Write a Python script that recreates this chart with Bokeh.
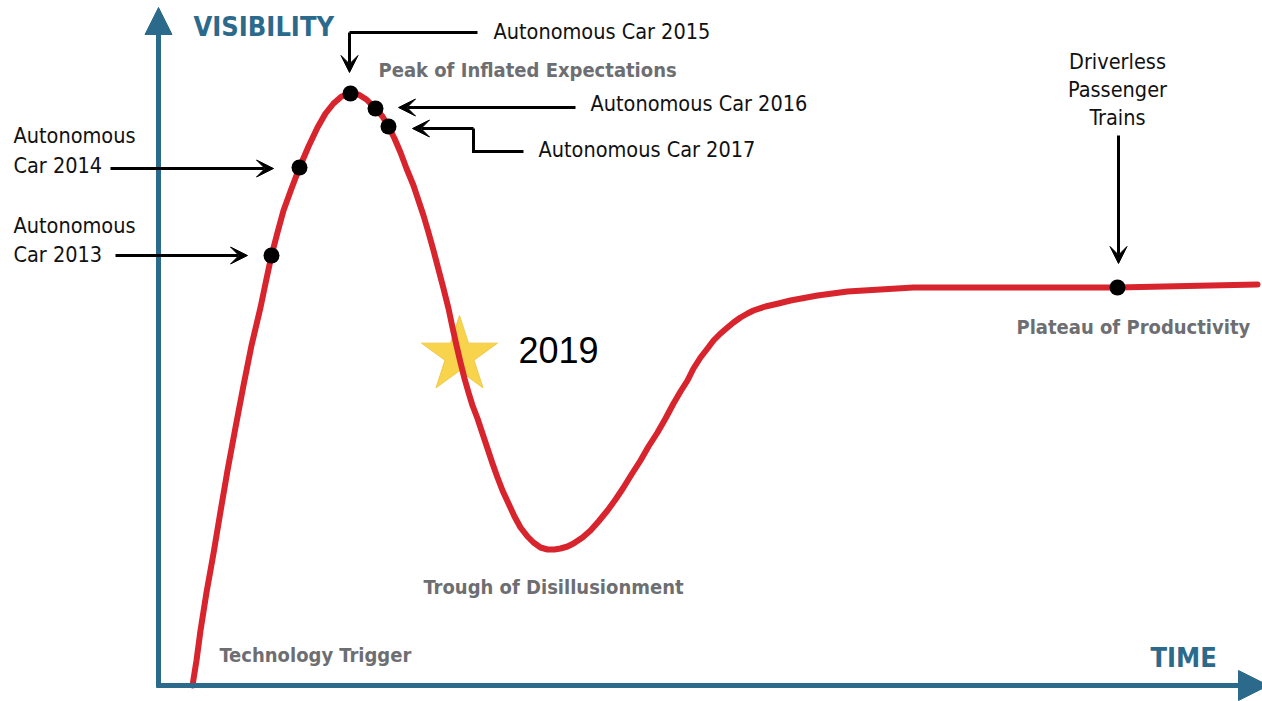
from bokeh.plotting import figure
from bokeh.models import Range1d, Arrow, VeeHead, NormalHead
from bokeh.core.properties import value
from bokeh.embed import file_html
from bokeh.resources import INLINE

# Coordinate system: time t (right) and visibility v (up), origin at the axis corner.

# Hype curve (time, visibility)
curve_t = [34, 38, 42, 48, 55, 62, 69, 77, 85, 93, 102, 107, 113, 119, 125, 133, 141, 150,
           159, 167, 175, 183, 192, 200, 208, 217, 224, 230, 236, 242, 248, 255, 260, 265,
           270, 275, 280, 285, 290, 294, 298, 302, 306, 310, 314, 319, 324, 329, 334, 339,
           344, 350, 356, 362, 369, 375, 382, 389, 396, 402, 409, 415, 424, 432, 440, 449,
           457, 465, 473, 482, 490, 499, 507, 515, 522, 529, 535, 542, 549, 555, 562, 569,
           575, 582, 589, 595, 607, 620, 632, 659, 689, 722, 755, 842, 959, 1099]
curve_v = [0, 25, 55, 93, 132, 174, 215, 258, 300, 340, 378, 402, 430, 453, 475, 497, 518, 539,
           558, 572, 582, 589, 592, 591, 586, 577, 569, 559, 547, 533, 517, 500, 485, 470,
           453, 435, 416, 397, 377, 358, 340, 323, 307, 293, 280, 267, 252, 237, 222, 208,
           195, 182, 169, 158, 149, 143, 138, 136, 136, 137, 139, 142, 148, 155, 164, 175,
           186, 198, 211, 225, 239, 253, 267, 282, 294, 305, 317, 328, 337, 345, 352, 358,
           363, 368, 372, 375, 379, 382, 385, 390, 394, 396, 398, 398, 398, 401]

# Milestones on the curve
milestone_names = ["Autonomous Car 2013", "Autonomous Car 2014", "Autonomous Car 2015",
                   "Autonomous Car 2016", "Autonomous Car 2017", "Driverless Passenger Trains"]
milestone_t = [113, 141, 192, 217, 230, 959]
milestone_v = [430, 518, 592, 577, 559, 398]

# 2019 position (star)
star_t = [301]
star_v = [330]
star_label = ["2019"]

# Leader arrows: polyline paths, last segment carries the arrow head
leader_paths_t = [[319, 191, 191], [417, 240], [365, 315, 315, 254], [-48, 115], [-43, 89], [960, 960]]
leader_paths_v = [[653, 653, 613], [578, 578], [534, 534, 557, 557], [517, 517], [430, 430], [550, 422]]

# Black annotation labels (left edge, baseline)
label_text = ["Autonomous Car 2015", "Autonomous Car 2016", "Autonomous Car 2017",
              "Autonomous", "Car 2014", "Autonomous", "Car 2013"]
label_t = [335, 432, 380, -145, -145, -145, -145]
label_v = [646, 574, 528, 542, 512, 452, 423]

train_text = ["Driverless", "Passenger", "Trains"]
train_t = [959, 959, 959]
train_v = [616, 588, 560]

# Phase labels (left edge, baseline)
phase_text = ["Technology Trigger", "Peak of Inflated Expectations",
              "Trough of Disillusionment", "Plateau of Productivity"]
phase_t = [61, 220, 265, 858]
phase_v = [23, 608, 91, 351]

axis_titles = ["VISIBILITY", "TIME"]
axis_title_t = [35, 992]
axis_title_v = [649, 18]
axis_len_t = 1110
axis_len_v = 678

AXIS = "#2b6a8b"
RED = "#d8242c"
GRAY = "#6d6e71"
NARROW = "DejaVu Sans Condensed"
BASE_SHIFT = 0.38  # anchor correction for alphabetic baseline, in em


def lift(vs, size):
    return [v + BASE_SHIFT * size for v in vs]


p = figure(width=1262, height=701, x_range=Range1d(-158, 1104), y_range=Range1d(-16, 685),
           output_backend="svg", toolbar_location=None, min_border=0)
p.axis.visible = False
p.grid.visible = False
p.outline_line_color = None
p.background_fill_color = "white"
p.border_fill_color = "white"

# axes with arrows
p.add_layout(Arrow(x_start=0, y_start=-2, x_end=0, y_end=axis_len_v, line_color=AXIS, line_width=5,
                   end=NormalHead(size=27, fill_color=AXIS, line_color=AXIS)))
p.add_layout(Arrow(x_start=-2, y_start=0, x_end=axis_len_t, y_end=0, line_color=AXIS, line_width=5,
                   end=NormalHead(size=30, fill_color=AXIS, line_color=AXIS)))

# star for 2019
p.scatter(star_t, star_v, marker="star", size=80, fill_color="#f7d44c", line_color="#f2c94a", line_width=1)

# curve
p.line(curve_t, curve_v, line_color=RED, line_width=6, line_join="round", line_cap="round")

# milestone dots
p.scatter(milestone_t, milestone_v, size=16, fill_color="black", line_color=None)

# leader lines and arrows
for ts, vs in zip(leader_paths_t, leader_paths_v):
    if len(ts) > 2:
        p.line(ts[:-1], vs[:-1], line_color="black", line_width=3, line_join="miter")
    p.add_layout(Arrow(x_start=ts[-2], y_start=vs[-2], x_end=ts[-1], y_end=vs[-1],
                       line_color="black", line_width=3,
                       end=VeeHead(size=17, fill_color="black", line_color="black")))

# texts
LBL = 21.5
p.text(label_t, lift(label_v, LBL), text=label_text, text_font=value(NARROW), text_font_size=f"{LBL}px",
       text_color="#111111", text_baseline="alphabetic", text_align="left")
p.text(train_t, lift(train_v, LBL), text=train_text, text_font=value(NARROW), text_font_size=f"{LBL}px",
       text_color="#111111", text_baseline="alphabetic", text_align="center")
PH = 20
p.text(phase_t, lift(phase_v, PH), text=phase_text, text_font=value(NARROW), text_font_size=f"{PH}px",
       text_font_style="bold", text_color=GRAY, text_baseline="alphabetic", text_align="left")
AX = 27
p.text(axis_title_t, lift(axis_title_v, AX), text=axis_titles, text_font=value(NARROW),
       text_font_size=f"{AX}px", text_font_style="bold", text_color=AXIS,
       text_baseline="alphabetic", text_align="left")
YR = 36
p.text([t + 59 for t in star_t], lift([v - 8 for v in star_v], YR), text=star_label,
       text_font=value("Liberation Sans"), text_font_size=f"{YR}px",
       text_color="black", text_baseline="alphabetic", text_align="left")

open("out.html", "w").write(file_html(p, INLINE))
